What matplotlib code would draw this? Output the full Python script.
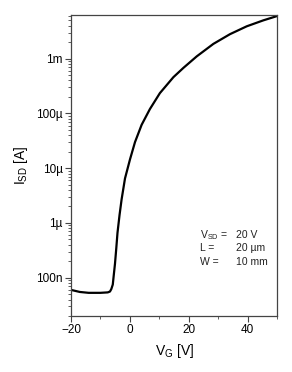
import matplotlib
matplotlib.use("Agg")
import matplotlib.pyplot as plt
from matplotlib.ticker import LogLocator, MultipleLocator, NullFormatter

plt.rcParams["font.family"] = ["Liberation Sans", "DejaVu Sans"]
plt.rcParams["mathtext.fontset"] = "custom"
plt.rcParams["mathtext.rm"] = "Liberation Sans"

# transfer curve (gate voltage in V, current in A)
v_gate = [-20, -17, -14, -10, -7.5, -6.75, -6.3, -5.8, -5.4, -5.05, -4.6, -4.2,
          -3.5, -2.8, -1.65, 0.05, 1.75, 4.0, 6.8, 10.2, 14.8, 18.2, 22.7,
          28.35, 34.0, 39.7, 45.3, 50]
i_sd = [6.0e-8, 5.5e-8, 5.3e-8, 5.3e-8, 5.4e-8, 5.6e-8, 6.2e-8, 7.5e-8, 1.2e-7,
        1.8e-7, 3.5e-7, 6.6e-7, 1.4e-6, 2.7e-6, 6.5e-6, 1.45e-5, 3.0e-5, 6.2e-5,
        1.2e-4, 2.35e-4, 4.6e-4, 6.8e-4, 1.1e-3, 1.86e-3, 2.8e-3, 3.9e-3,
        5.0e-3, 6.0e-3]

y_tick_values = [1e-7, 1e-6, 1e-5, 1e-4, 1e-3]
y_tick_labels = ["100n", "1µ", "10µ", "100µ", "1m"]
x_tick_values = [-20, 0, 20, 40]

fig = plt.figure(figsize=(2.92, 3.72), dpi=100)
ax = fig.add_axes([0.243, 0.1505, 0.706, 0.8095])

ax.plot(v_gate, i_sd, color="black", lw=1.6)
ax.set_yscale("log")
ax.set_xlim(-20, 50)
ax.set_ylim(2.0e-8, 6.3e-3)

ax.set_yticks(y_tick_values)
ax.set_yticklabels(y_tick_labels)
ax.yaxis.set_minor_locator(LogLocator(base=10, subs=range(2, 10), numticks=20))
ax.yaxis.set_minor_formatter(NullFormatter())
ax.set_xticks(x_tick_values)
ax.xaxis.set_minor_locator(MultipleLocator(10))

for s in ax.spines.values():
    s.set_color("#444444")
    s.set_linewidth(0.9)
ax.tick_params(which="major", direction="out", length=4, width=0.8,
               color="#444444", labelsize=8.5, pad=2)
ax.tick_params(which="minor", direction="out", length=2, width=0.6,
               color="#444444")
ax.tick_params(top=False, right=False, which="both")

ax.set_xlabel(r"$\mathregular{V_G}$ [V]", fontsize=10, labelpad=4)
ax.set_ylabel(r"$\mathregular{I_{SD}}$ [A]", fontsize=10, labelpad=4)

# parameter block
ax.text(0.625, 0.26, r"$\mathregular{V_{SD}}$ =", transform=ax.transAxes, fontsize=7.5, color="#222222")
ax.text(0.80, 0.26, "20 V", transform=ax.transAxes, fontsize=7.5, color="#222222")
ax.text(0.625, 0.215, "L =", transform=ax.transAxes, fontsize=7.5, color="#222222")
ax.text(0.80, 0.215, "20 µm", transform=ax.transAxes, fontsize=7.5, color="#222222")
ax.text(0.625, 0.17, "W =", transform=ax.transAxes, fontsize=7.5, color="#222222")
ax.text(0.80, 0.17, "10 mm", transform=ax.transAxes, fontsize=7.5, color="#222222")

fig.savefig("out.png", dpi=100)
